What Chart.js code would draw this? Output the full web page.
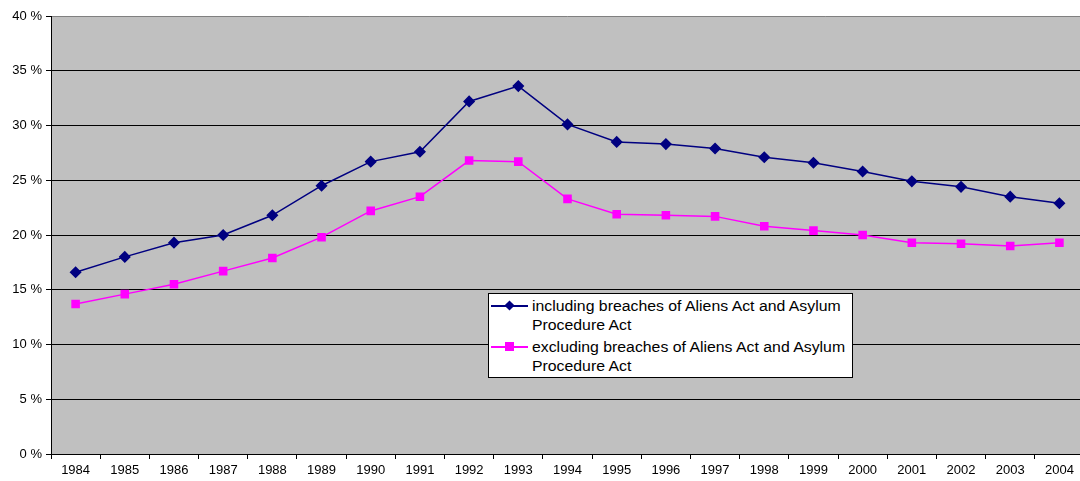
<!DOCTYPE html>
<html lang="en">
<head>
  <meta charset="UTF-8">
  <title>Share of foreign suspects</title>
  <script src="https://cdn.jsdelivr.net/npm/chart.js"></script>
  <style>
    html, body {
      margin: 0;
      padding: 0;
      background: #fff;
      overflow: hidden;
      font-family: "Liberation Sans", Arial, sans-serif;
    }
    .wrap {
      position: relative;
      width: 1080px;
      height: 481px;
      overflow: hidden;
    }
    canvas { display: block; }
    .legend {
      position: absolute;
      left: 488px;
      top: 293px;
      width: 363px;
      height: 83px;
      background: #fff;
      border: 1px solid #000;
      font-size: 14px;
      line-height: 19px;
      color: #000;
    }
    .item {
      position: relative;
      height: 38px;
      margin-top: 3px;
    }
    .item + .item { margin-top: 3px; }
    .txt {
      position: absolute;
      left: 43px;
      top: 0;
      width: 280px;
      transform: scaleX(1.13);
      transform-origin: left top;
    }
    .sym {
      position: absolute;
      left: 2px;
      top: 8px;
      width: 37px;
      height: 2px;
    }
    .sym i {
      position: absolute;
      left: 14px;
      top: -4px;
      width: 9px;
      height: 9px;
    }
  </style>
</head>
<body>
  <div class="wrap">
    <canvas id="chart" width="1084" height="481"></canvas>
    <div class="legend">
      <div class="item"><span class="sym" style="background:#000080"><i style="background:#000080;transform:rotate(45deg) scale(0.8)"></i></span><span class="txt">including breaches of Aliens Act and Asylum Procedure Act</span></div>
      <div class="item"><span class="sym" style="background:#ff00ff"><i style="background:#ff00ff"></i></span><span class="txt">excluding breaches of Aliens Act and Asylum Procedure Act</span></div>
    </div>
  </div>

  <script>
    const years = ['1984', '1985', '1986', '1987', '1988', '1989', '1990', '1991', '1992', '1993', '1994',
                   '1995', '1996', '1997', '1998', '1999', '2000', '2001', '2002', '2003', '2004'];
    const including = [16.6, 18.0, 19.3, 20.0, 21.8, 24.5, 26.7, 27.6, 32.2, 33.6, 30.1,
                       28.5, 28.3, 27.9, 27.1, 26.6, 25.8, 24.9, 24.4, 23.5, 22.9];
    const excluding = [13.7, 14.6, 15.5, 16.7, 17.9, 19.8, 22.2, 23.5, 26.8, 26.7, 23.3,
                       21.9, 21.8, 21.7, 20.8, 20.4, 20.0, 19.3, 19.2, 19.0, 19.3];

    // grauer Hintergrund der Zeichenfläche
    const plotBg = {
      id: 'plotBg',
      beforeDraw(chart) {
        const { ctx, chartArea: a } = chart;
        ctx.save();
        ctx.fillStyle = '#c0c0c0';
        ctx.fillRect(a.left, a.top, a.right - a.left, a.bottom - a.top);
        ctx.strokeStyle = '#808080';
        ctx.lineWidth = 1;
        ctx.beginPath();
        ctx.moveTo(a.left, a.top + 0.5);
        ctx.lineTo(a.right, a.top + 0.5);
        ctx.stroke();
        ctx.restore();
      }
    };

    new Chart(document.getElementById('chart'), {
      type: 'line',
      data: {
        labels: years,
        datasets: [{
          label: 'including breaches of Aliens Act and Asylum Procedure Act',
          data: including,
          borderColor: '#000080',
          backgroundColor: '#000080',
          borderWidth: 1.5,
          pointStyle: 'rectRot',
          pointRadius: 5,
          pointHoverRadius: 5
        }, {
          label: 'excluding breaches of Aliens Act and Asylum Procedure Act',
          data: excluding,
          borderColor: '#ff00ff',
          backgroundColor: '#ff00ff',
          borderWidth: 1.5,
          pointStyle: 'rect',
          pointRadius: 5,
          pointHoverRadius: 5
        }]
      },
      options: {
        responsive: false,
        animation: false,
        events: [],
        layout: { autoPadding: false, padding: { top: 16, right: 0, left: 0, bottom: 0 } },
        plugins: {
          legend: { display: false },
          tooltip: { enabled: false }
        },
        scales: {
          x: {
            offset: true,
            grid: {
              offset: true,
              drawOnChartArea: false,
              color: '#000',
              tickLength: 5
            },
            border: { color: '#000' },
            ticks: {
              color: '#000',
              font: { family: 'Liberation Sans', size: 13 },
              maxRotation: 0,
              autoSkip: false,
              padding: 4
            },
            afterFit(s) {
              s.height = 27;
              s.paddingLeft = 0;
              s.paddingRight = 0;
            }
          },
          y: {
            min: 0,
            max: 40,
            grid: {
              color: (c) => c.tick.value === 40 ? 'rgba(0,0,0,0)' : '#000',
              tickColor: '#000',
              tickLength: 5
            },
            border: { color: '#000' },
            ticks: {
              stepSize: 5,
              color: '#000',
              padding: 4,
              font: { family: 'Liberation Sans', size: 13 },
              callback: (v) => v + ' %'
            },
            afterFit(s) { s.width = 51; }
          }
        }
      },
      plugins: [plotBg]
    });
  </script>
</body>
</html>
